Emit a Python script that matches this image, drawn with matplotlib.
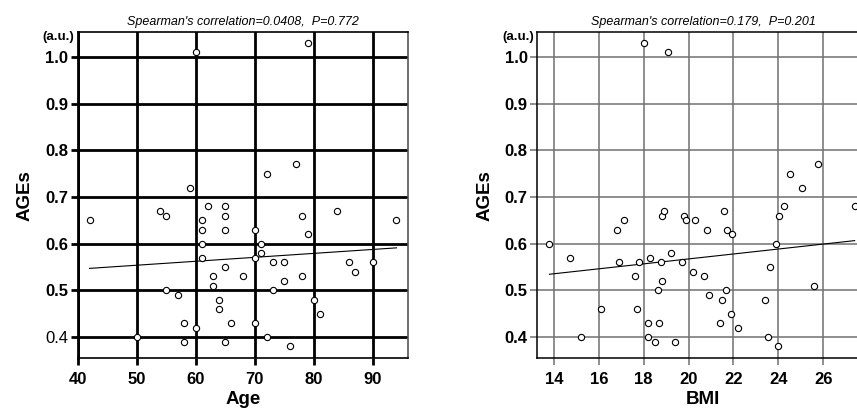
import numpy as np
import matplotlib
matplotlib.use("Agg")
import matplotlib.pyplot as plt

plt.rcParams["font.family"] = ["Liberation Sans", "DejaVu Sans"]

# Left panel: Age vs AGEs
age = [42, 54, 55, 61, 61, 61, 61, 62, 65, 65, 65, 70, 78, 79, 84, 94,
       71, 71, 70, 73, 75, 86, 90, 87, 65, 63, 68, 78, 75, 63, 55, 73,
       57, 64, 80, 64, 81, 58, 66, 70, 60, 50, 72, 58, 65, 76,
       60, 79, 59, 72, 77]
age_ages = [0.65, 0.67, 0.66, 0.65, 0.63, 0.60, 0.57, 0.68, 0.68, 0.66, 0.63, 0.63, 0.66, 0.62, 0.67, 0.65,
            0.60, 0.58, 0.57, 0.56, 0.56, 0.56, 0.56, 0.54, 0.55, 0.53, 0.53, 0.53, 0.52, 0.51, 0.50, 0.50,
            0.49, 0.48, 0.48, 0.46, 0.45, 0.43, 0.43, 0.43, 0.42, 0.40, 0.40, 0.39, 0.39, 0.38,
            1.01, 1.03, 0.72, 0.75, 0.77]
age_fit = (0.5115, 0.000846)  # intercept, slope

# Right panel: BMI vs AGEs
bmi = [13.8, 14.7, 15.2, 16.1, 16.8, 16.9, 17.1, 17.6, 17.7, 17.8, 18.2, 18.2, 18.3, 18.5, 18.65,
       18.7, 18.75, 18.8, 18.8, 18.9, 19.2, 19.4, 19.7, 19.8, 19.9, 20.2, 20.3, 20.7, 20.8, 20.9,
       21.4, 21.5, 21.6, 21.65, 21.7, 21.9, 21.95, 22.2, 23.4, 23.55, 23.65, 23.9, 24.0, 24.05, 24.25,
       25.6, 27.4, 18.0, 19.1, 24.5, 25.05, 25.75]
bmi_ages = [0.60, 0.57, 0.40, 0.46, 0.63, 0.56, 0.65, 0.53, 0.46, 0.56, 0.43, 0.40, 0.57, 0.39, 0.50,
            0.43, 0.56, 0.66, 0.52, 0.67, 0.58, 0.39, 0.56, 0.66, 0.65, 0.54, 0.65, 0.53, 0.63, 0.49,
            0.43, 0.48, 0.67, 0.50, 0.63, 0.45, 0.62, 0.42, 0.48, 0.40, 0.55, 0.60, 0.38, 0.66, 0.68,
            0.51, 0.68, 1.03, 1.01, 0.75, 0.72, 0.77]
bmi_fit = (0.4613, 0.0053)

age_ticks = [40, 50, 60, 70, 80, 90]
bmi_ticks = [14, 16, 18, 20, 22, 24, 26]
y_ticks = [0.4, 0.5, 0.6, 0.7, 0.8, 0.9, 1.0]

fig = plt.figure(figsize=(8.57, 4.12), dpi=100)
ax1 = fig.add_axes([0.0907, 0.130, 0.3857, 0.7927])
ax2 = fig.add_axes([0.627, 0.130, 0.387, 0.7927])


def draw_panel(ax, x, y, fit, xticks, xlim, xlabel, title, grid_color, grid_lw, spine_lw):
    ax.set_xlim(*xlim)
    ax.set_ylim(0.354, 1.054)
    ax.set_xticks(xticks)
    ax.set_yticks(y_ticks)
    ax.set_yticklabels([f"{v:.1f}" for v in y_ticks])
    ax.grid(True, color=grid_color, linewidth=grid_lw)
    ax.set_axisbelow(True)
    for s in ax.spines.values():
        s.set_linewidth(spine_lw)
    ax.tick_params(axis="both", length=5, width=grid_lw, color=grid_color,
                   direction="out", labelsize=12)
    ax.tick_params(axis="x", pad=5)
    ax.tick_params(axis="y", pad=2)
    for lab in ax.get_xticklabels() + ax.get_yticklabels():
        lab.set_fontweight("bold")
    ax.plot(x, y, "o", mfc="white", mec="black", ms=4.5, mew=0.8, zorder=3)
    xs = np.array([min(x), max(x)]) if max(x) < xlim[1] else np.array([min(x), xlim[1]])
    ax.plot(xs, fit[0] + fit[1] * xs, color="black", lw=0.8, zorder=2)
    ax.set_xlabel(xlabel, fontsize=13.5, fontweight="bold", labelpad=3)
    ax.set_ylabel("AGEs", fontsize=13.5, fontweight="bold", labelpad=8)
    ax.set_title(title, fontsize=9, style="italic", pad=5)
    ax.text(-0.01, 0.985, "(a.u.)", transform=ax.transAxes, ha="right", va="center",
            fontsize=9.5, fontweight="bold")


draw_panel(ax1, age, age_ages, age_fit, age_ticks, (40, 96), "Age",
           "Spearman's correlation=0.0408,  P=0.772", "black", 2.0, 1.2)
ax1.spines["left"].set_linewidth(2.0)
ax1.spines["right"].set_color("#555555")
ax1.get_yticklabels()[0].set_fontweight("normal")

draw_panel(ax2, bmi, bmi_ages, bmi_fit, bmi_ticks, (13.26, 28.04), "BMI",
           "Spearman's correlation=0.179,  P=0.201", "#707070", 1.1, 1.1)

fig.savefig("out.png", dpi=100)
